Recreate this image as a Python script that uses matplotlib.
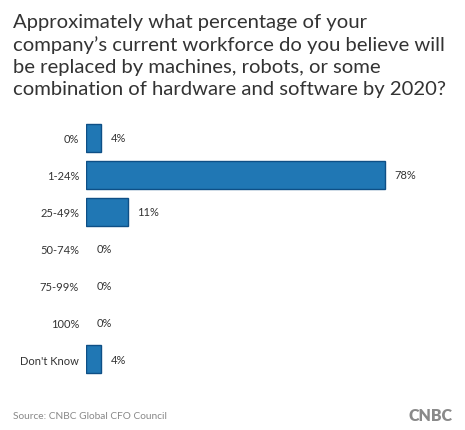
import matplotlib
matplotlib.use('Agg')
from matplotlib import pyplot as plt

categories = ['0%', '1-24%', '25-49%', '50-74%', '75-99%', '100%', "Don't Know"]
values = [4, 78, 11, 0, 0, 0, 4]

title = ("Approximately what percentage of your\n"
         "company\u2019s current workforce do you believe will\n"
         "be replaced by machines, robots, or some\n"
         "combination of hardware and software by 2020?")

plt.rcParams['font.family'] = ['Lato', 'DejaVu Sans']

fig = plt.figure(figsize=(4.65, 4.31), dpi=100)
ax = fig.add_axes([86/465, 0.1218, 0.968 - 86/465, 0.7204 - 0.1218])

ypos = list(range(len(categories)))
lws = [1 if v > 0 else 0 for v in values]
ax.barh(ypos, values, height=0.76, color='#2077b4', edgecolor='#0e4f86', linewidth=lws)
ax.set_xlim(0, 95)
ax.set_ylim(len(categories) - 0.5, -0.5)

for y, v in zip(ypos, values):
    off = 11 if v == 0 else 9
    ax.annotate(f'{v}%', xy=(v, y), xytext=(off * 0.72, 0), textcoords='offset points',
                va='center', ha='left', fontsize=8, color='#333333')

ax.set_yticks(ypos)
ax.set_yticklabels(categories, fontsize=8, color='#333333')
ax.tick_params(axis='y', length=0, pad=5)
ax.set_xticks([])
for s in ax.spines.values():
    s.set_visible(False)

fig.text(13/465, 1 - 14/431, title, ha='left', va='top', fontsize=14.6,
         color='#333333', linespacing=1.36)

fig.text(13/465, 1 - 417/431, 'Source: CNBC Global CFO Council', ha='left', va='center',
         fontsize=7.3, color='#888888')
fig.text(452/465, 1 - 416/431, 'CNBC', ha='right', va='center', fontsize=11.5,
         fontweight='heavy', color='#8a8a8a')

fig.savefig('out.png', dpi=100)
